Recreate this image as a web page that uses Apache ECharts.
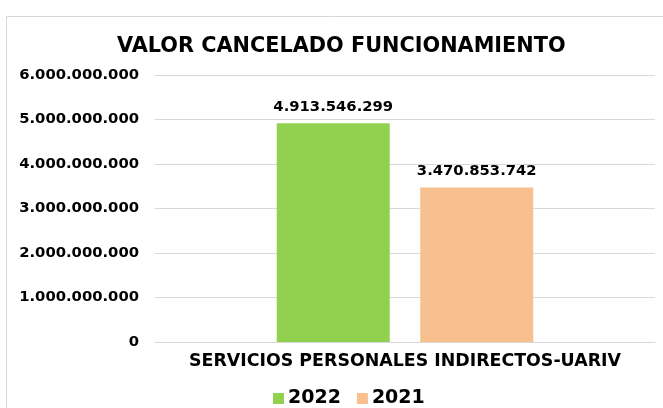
<!DOCTYPE html>
<html>
<head>
<meta charset="utf-8">
<script src="https://cdn.jsdelivr.net/npm/echarts@6/dist/echarts.min.js"></script>
<style>
  html, body { margin: 0; padding: 0; background: #fff; }
  #chart { width: 663px; height: 408px; }
</style>
</head>
<body>
<div id="chart"></div>
<script>
var categories = ['SERVICIOS PERSONALES INDIRECTOS-UARIV']
var values2022 = [4913546299]
var values2021 = [3470853742]
var seriesNames = ['2022', '2021']

function fmt (v) {
  return String(Math.round(v)).replace(/\B(?=(\d{3})+(?!\d))/g, '.')
}

var font = 'DejaVu Sans'
var chart = echarts.init(document.getElementById('chart'))
chart.setOption({
  animation: false,
  graphic: [{
    type: 'rect',
    shape: { x: 6.5, y: 16.5, width: 680, height: 420 },
    style: { fill: 'none', stroke: '#d9d9d9', lineWidth: 1 }
  }],
  title: {
    text: 'VALOR CANCELADO FUNCIONAMIENTO',
    left: 112,
    top: 31,
    textStyle: { fontFamily: font, fontWeight: 'bold', fontSize: 20.8, color: '#000' }
  },
  legend: {
    data: seriesNames,
    bottom: 0,
    left: 273,
    padding: 0,
    itemWidth: 11,
    itemHeight: 11,
    itemGap: 16,
    icon: 'rect',
    textStyle: { fontFamily: font, fontWeight: 'bold', fontSize: 19, color: '#000', padding: [0, 0, 0, -1] }
  },
  grid: { left: 155, right: 8, top: 75, bottom: 66 },
  xAxis: {
    type: 'category',
    data: categories,
    axisLine: { lineStyle: { color: '#d9d9d9' } },
    axisTick: { show: false },
    axisLabel: { fontFamily: font, fontWeight: 'bold', fontSize: 17.4, color: '#000', margin: 11 }
  },
  yAxis: {
    type: 'value',
    min: 0,
    max: 6000000000,
    interval: 1000000000,
    axisLine: { show: false },
    axisTick: { show: false },
    splitLine: { lineStyle: { color: '#d9d9d9' } },
    axisLabel: { fontFamily: font, fontWeight: 'bold', fontSize: 14.8, color: '#000', margin: 16, formatter: fmt }
  },
  series: [
    {
      name: seriesNames[0],
      type: 'bar',
      data: values2022,
      barWidth: 113,
      barGap: '27%',
      itemStyle: { color: '#92D050' },
      label: { show: true, position: 'top', distance: 9, formatter: function (p) { return fmt(p.value) }, fontFamily: font, fontWeight: 'bold', fontSize: 14.8, color: '#000' }
    },
    {
      name: seriesNames[1],
      type: 'bar',
      data: values2021,
      barWidth: 113,
      itemStyle: { color: '#F8BF8F' },
      label: { show: true, position: 'top', distance: 9, formatter: function (p) { return fmt(p.value) }, fontFamily: font, fontWeight: 'bold', fontSize: 14.8, color: '#000' }
    }
  ]
})
</script>
</body>
</html>
